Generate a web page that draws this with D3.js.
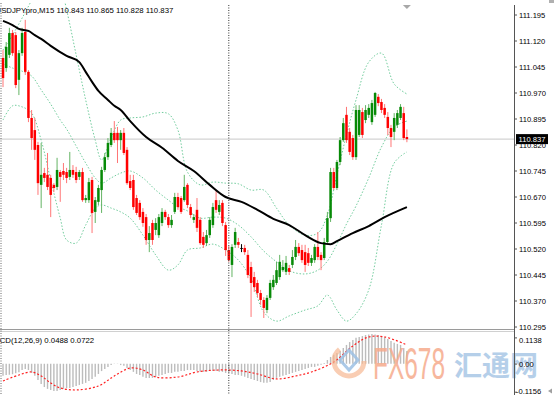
<!DOCTYPE html>
<html><head><meta charset="utf-8">
<script src="https://cdn.jsdelivr.net/npm/d3@7"></script>
<style>
body{margin:0;background:#fff;overflow:hidden}
svg{display:block}
text{font-family:"Liberation Sans",Arial,sans-serif}
</style>
</head><body>
<svg id="c" width="554" height="395"></svg>
<script>
// ---------- DATA ----------
const chartTitle = "USDJPYpro,M15";
const lastOHLC = [110.843, 110.865, 110.828, 110.837];
const macdTitle = "MACD(12,26,9)";
const macdLast = [0.0488, 0.0722];
const currentPrice = 110.837;
const separatorBar = 71;

const open = [111.071,111.042,111.080,111.143,111.137,111.008,111.085,111.146,111.031,110.898,
110.863,110.820,110.705,110.739,110.734,110.725,110.705,110.699,110.742,110.745,
110.742,110.728,110.748,110.742,110.728,110.742,110.661,110.661,110.719,110.627,
110.656,110.690,110.748,110.785,110.820,110.855,110.855,110.834,110.855,110.806,
110.716,110.719,110.667,110.653,110.627,110.612,110.546,110.595,110.575,110.560,
110.595,110.627,110.612,110.589,110.627,110.670,110.667,110.661,110.705,110.641,
110.604,110.633,110.604,110.555,110.537,110.560,110.589,110.661,110.627,110.653,
110.589,110.517,110.474,110.532,110.540,110.523,110.523,110.503,110.468,110.439,
110.422,110.393,110.373,110.344,110.379,110.410,110.422,110.439,110.459,110.454,
110.465,110.474,110.497,110.526,110.517,110.511,110.508,110.480,110.488,110.526,
110.503,110.494,110.540,110.609,110.742,110.696,110.771,110.834,110.907,110.858,
110.840,110.785,110.849,110.915,110.892,110.907,110.886,110.907,110.959,110.944,
110.927,110.901,110.869,110.858,110.878,110.898,110.912,110.843];
const high = [111.094,111.117,111.158,111.152,111.146,111.094,111.158,111.181,111.036,110.921,
110.898,110.829,110.826,110.754,110.797,110.734,110.710,110.783,110.748,110.768,
110.754,110.800,110.762,110.757,110.748,110.754,110.676,110.725,110.728,110.670,
110.705,110.757,110.797,110.840,110.869,110.889,110.872,110.863,110.869,110.814,
110.734,110.734,110.676,110.661,110.638,110.621,110.586,110.604,110.609,110.621,
110.638,110.633,110.621,110.618,110.682,110.682,110.673,110.734,110.710,110.650,
110.621,110.667,110.612,110.569,110.575,110.612,110.653,110.690,110.661,110.661,
110.598,110.529,110.534,110.581,110.552,110.534,110.532,110.517,110.483,110.454,
110.431,110.402,110.381,110.387,110.431,110.445,110.483,110.503,110.488,110.500,
110.474,110.517,110.546,110.537,110.532,110.532,110.523,110.503,110.534,110.569,
110.511,110.552,110.627,110.754,110.754,110.777,110.843,110.898,110.930,110.869,
110.849,110.935,110.935,110.927,110.935,110.938,110.950,110.973,110.967,110.953,
110.938,110.915,110.878,110.912,110.921,110.938,110.930,110.865];
const low = [110.987,111.031,111.071,111.077,110.984,110.964,111.077,111.022,110.886,110.806,
110.777,110.676,110.638,110.713,110.690,110.612,110.684,110.690,110.656,110.719,
110.710,110.719,110.725,110.710,110.719,110.656,110.653,110.653,110.566,110.595,
110.647,110.624,110.742,110.777,110.814,110.826,110.768,110.806,110.791,110.705,
110.690,110.633,110.618,110.604,110.584,110.532,110.511,110.532,110.560,110.552,
110.586,110.604,110.581,110.581,110.621,110.633,110.621,110.656,110.638,110.609,
110.595,110.569,110.532,110.523,110.529,110.552,110.581,110.624,110.618,110.586,
110.500,110.483,110.439,110.523,110.523,110.511,110.503,110.436,110.324,110.396,
110.381,110.359,110.321,110.335,110.373,110.402,110.416,110.431,110.454,110.445,
110.445,110.465,110.488,110.500,110.480,110.454,110.471,110.471,110.480,110.488,
110.459,110.488,110.534,110.598,110.690,110.690,110.762,110.829,110.826,110.791,
110.777,110.777,110.843,110.840,110.883,110.898,110.878,110.901,110.932,110.912,
110.898,110.849,110.814,110.834,110.869,110.892,110.834,110.828];
const close = [111.013,111.103,111.143,111.085,110.993,111.085,111.143,111.031,110.898,110.840,
110.806,110.710,110.734,110.725,110.699,110.676,110.696,110.748,110.728,110.734,
110.725,110.748,110.734,110.719,110.742,110.661,110.667,110.713,110.624,110.661,
110.696,110.748,110.785,110.826,110.855,110.834,110.834,110.855,110.797,110.710,
110.696,110.641,110.624,110.612,110.595,110.546,110.566,110.546,110.595,110.612,
110.627,110.612,110.589,110.604,110.670,110.641,110.627,110.699,110.647,110.618,
110.612,110.581,110.537,110.532,110.560,110.604,110.641,110.633,110.647,110.595,
110.517,110.488,110.526,110.569,110.532,110.523,110.511,110.445,110.422,110.410,
110.393,110.373,110.350,110.379,110.422,110.431,110.459,110.483,110.468,110.480,
110.454,110.497,110.526,110.508,110.488,110.474,110.480,110.494,110.526,110.497,
110.488,110.540,110.609,110.742,110.696,110.771,110.834,110.883,110.834,110.800,
110.785,110.921,110.921,110.849,110.921,110.927,110.941,110.970,110.941,110.921,
110.907,110.869,110.843,110.898,110.912,110.930,110.840,110.837];

// moving average (black), sampled at bar indices
const maIdx = [0,3,5,8,10,12,15,20,24,26,28,30,33,35,37,40,45,50,55,60,65,70,75,80,85,90,95,100,103,105,110,115,120,127];
const maVal = [111.178,111.166,111.155,111.149,111.137,111.126,111.106,111.077,111.059,111.031,111.002,110.976,110.950,110.933,110.921,110.889,110.843,110.812,110.774,110.745,110.705,110.670,110.656,110.633,110.607,110.589,110.560,110.537,110.534,110.543,110.566,110.586,110.612,110.641];

// Bollinger bands (dotted green), sampled at bar indices
const bbIdx = [0,3,6,9,12,15,18,20,23,26,29,31,34,37,40,44,48,52,55,58,62,66,70,74,78,82,86,90,95,99,102,105,108,111,115,119,123,127];
const bbUpper = [111.094,111.137,111.186,111.238,111.296,111.319,111.282,111.210,111.080,110.950,110.834,110.777,110.840,110.892,110.898,110.901,110.912,110.910,110.863,110.742,110.705,110.713,110.710,110.708,110.690,110.690,110.638,110.589,110.560,110.566,110.618,110.734,110.849,110.950,111.059,111.085,110.996,110.967];
const bbMid = [111.054,111.042,111.033,111.019,110.979,110.938,110.892,110.866,110.817,110.768,110.725,110.710,110.725,110.739,110.745,110.725,110.690,110.661,110.641,110.630,110.609,110.612,110.609,110.589,110.555,110.514,110.483,110.457,110.448,110.459,110.485,110.534,110.592,110.644,110.725,110.814,110.872,110.889];
const bbLower = [110.892,110.933,110.930,110.912,110.834,110.719,110.609,110.546,110.537,110.589,110.638,110.647,110.638,110.627,110.609,110.560,110.503,110.459,110.474,110.517,110.523,110.534,110.517,110.488,110.434,110.338,110.312,110.327,110.344,110.356,110.387,110.344,110.312,110.333,110.402,110.589,110.768,110.800];

// MACD histogram (one per bar)
const macdHist = [-0.046,-0.043,-0.042,-0.040,-0.036,-0.032,-0.024,-0.020,-0.024,-0.035,
-0.046,-0.062,-0.077,-0.089,-0.096,-0.100,-0.104,-0.104,-0.100,-0.096,
-0.093,-0.093,-0.089,-0.085,-0.081,-0.077,-0.073,-0.066,-0.058,-0.050,
-0.039,-0.028,-0.020,-0.012,-0.005,-0.001,-0.001,-0.005,-0.008,-0.016,
-0.024,-0.031,-0.039,-0.043,-0.050,-0.054,-0.054,-0.054,-0.050,-0.046,
-0.043,-0.039,-0.035,-0.035,-0.031,-0.031,-0.028,-0.028,-0.024,-0.024,
-0.024,-0.028,-0.031,-0.031,-0.031,-0.028,-0.028,-0.028,-0.031,-0.031,
-0.035,-0.035,-0.039,-0.043,-0.043,-0.046,-0.050,-0.054,-0.058,-0.062,
-0.066,-0.070,-0.073,-0.073,-0.070,-0.062,-0.054,-0.050,-0.046,-0.043,
-0.039,-0.035,-0.031,-0.028,-0.024,-0.020,-0.016,-0.012,-0.012,-0.008,
-0.004,0.003,0.0145,0.026,0.034,0.041,0.049,0.060,0.072,0.083,
0.091,0.099,0.1025,0.106,0.110,0.112,0.1138,0.112,0.110,0.106,
0.102,0.095,0.087,0.080,0.076,0.072,0.060,0.0488];
// MACD signal (red dotted), sampled at bar indices
const sigIdx = [0,5,9,12,15,18,23,30,35,40,44,48,55,61,68,75,80,86,92,97,104,110,115,120,127];
const sigVal = [-0.0658,-0.0428,-0.0314,-0.0467,-0.0734,-0.0925,-0.1002,-0.0849,-0.0467,-0.0161,-0.0237,-0.0505,-0.0505,-0.0314,-0.0237,-0.0275,-0.0390,-0.0581,-0.0467,-0.0314,0.0069,0.0681,0.1025,0.1025,0.0722];

const priceTicks = [111.195,111.120,111.045,110.970,110.895,110.820,110.745,110.670,110.595,110.520,110.445,110.370,110.295];
const macdTicks = [0.1138,0.00,-0.1156];
const macdTickLabels = ["0.1138","0.00","-0.1156"];

// ---------- DRAW ----------
const svg = d3.select("#c");
const axisX = 514;
const x = d3.scaleLinear().domain([0, 127]).range([3, 406.9]);
const y = d3.scaleLinear().domain([110.295, 111.195]).range([327, 15]);
const ym = d3.scaleLinear().domain([-0.1156, 0.1138]).range([394, 334]);

const defs = svg.append("defs");
defs.append("clipPath").attr("id","clipMain").append("rect").attr("x",0).attr("y",3).attr("width",axisX).attr("height",326);
defs.append("clipPath").attr("id","clipMacd").append("rect").attr("x",0).attr("y",333).attr("width",axisX).attr("height",62);
defs.append("clipPath").attr("id","clipAll").append("rect").attr("x",0).attr("y",0).attr("width",554).attr("height",395);

const gMain = svg.append("g").attr("clip-path","url(#clipMain)");

// current price line
gMain.append("line").attr("x1",0).attr("x2",axisX).attr("y1",y(currentPrice)).attr("y2",y(currentPrice))
  .attr("stroke","#c8c8c8").attr("stroke-width",1);

// Bollinger bands
const bbLine = arr => d3.line().x((d,i)=>x(bbIdx[i])).y(d=>y(d)).curve(d3.curveCatmullRom)(arr);
[bbUpper, bbMid, bbLower].forEach(arr=>{
  gMain.append("path").attr("d", bbLine(arr)).attr("fill","none")
    .attr("stroke","#4fbf84").attr("stroke-opacity",0.8).attr("stroke-width",1)
    .attr("stroke-dasharray","1.5,1.8");
});

// candles
const bars = d3.range(open.length);
const dir = i => close[i] > open[i] ? 1 : (close[i] < open[i] ? -1 : 0);
gMain.append("g").selectAll("line").data(bars).join("line")
  .attr("x1", i=>x(i)).attr("x2", i=>x(i))
  .attr("y1", i=>y(high[i])).attr("y2", i=>y(low[i]))
  .attr("stroke", i=> dir(i)>0 ? "#63b463" : dir(i)<0 ? "#ff7575" : "#000")
  .attr("stroke-width",1);
gMain.append("g").selectAll("rect").data(bars).join("rect")
  .attr("x", i=>x(i)-1.25).attr("width",2.5)
  .attr("y", i=>y(Math.max(open[i],close[i])))
  .attr("height", i=>Math.max(1, y(Math.min(open[i],close[i])) - y(Math.max(open[i],close[i]))))
  .attr("fill", i=> dir(i)>0 ? "#078a07" : dir(i)<0 ? "#ff0000" : "#000");

// moving average
gMain.append("path")
  .attr("d", d3.line().x((d,i)=>x(maIdx[i])).y(d=>y(d)).curve(d3.curveMonotoneX)(maVal))
  .attr("fill","none").attr("stroke","#000").attr("stroke-width",2);

// chart shift marker
svg.append("path").attr("d", d3.line()([[x(127)-4,5],[x(127)+4,5],[x(127),9]]) + "Z").attr("fill","#a8a8a8");

// title (left edge clipped like the terminal window)
const tg = svg.append("g").attr("clip-path","url(#clipAll)");
tg.append("text").attr("x",-4.5).attr("y",13).attr("font-size",7.8).attr("fill","#000")
  .text(chartTitle + "  " + lastOHLC.map(v=>v.toFixed(3)).join(" "));

// separator between panels
svg.append("line").attr("x1",0).attr("x2",axisX).attr("y1",329.5).attr("y2",329.5).attr("stroke","#9a9a9a");
svg.append("line").attr("x1",0).attr("x2",axisX).attr("y1",331.5).attr("y2",331.5).attr("stroke","#d0d0d0");

// MACD panel
const gM = svg.append("g").attr("clip-path","url(#clipMacd)");
gM.append("g").selectAll("line").data(bars).join("line")
  .attr("x1", i=>x(i)).attr("x2", i=>x(i))
  .attr("y1", ym(0)).attr("y2", i=>ym(macdHist[i]))
  .attr("stroke","#bcbcbc").attr("stroke-width",1.4);
gM.append("path")
  .attr("d", d3.line().x((d,i)=>x(sigIdx[i])).y(d=>ym(d)).curve(d3.curveCatmullRom)(sigVal))
  .attr("fill","none").attr("stroke","#ff2020").attr("stroke-width",1.2).attr("stroke-dasharray","2,2");
tg.append("text").attr("x",-12).attr("y",343).attr("font-size",7.8).attr("fill","#000")
  .text(macdTitle + " " + macdLast.map(v=>v.toFixed(4)).join(" "));

// watermark
const wm = svg.append("g").attr("opacity",0.85);
wm.append("circle").attr("cx",349).attr("cy",361).attr("r",15).attr("fill","none")
  .attr("stroke","#f6b690").attr("stroke-width",5).attr("stroke-dasharray","60,40").attr("opacity",0.8);
wm.append("path").attr("d","M349,350 L358,360 L349,370 L340,360 Z").attr("fill","none")
  .attr("stroke","#9ec1e4").attr("stroke-width",3);
wm.append("text").attr("x",373).attr("y",379).attr("font-size",44).attr("fill","#f6ab8c")
  .attr("textLength",72).attr("lengthAdjust","spacingAndGlyphs").text("FX678");
wm.append("text").attr("x",454).attr("y",376).attr("font-size",28).attr("font-weight","bold")
  .style("font-family","'Noto Sans CJK SC',sans-serif").attr("fill","#a9c7e6")
  .attr("textLength",84).attr("lengthAdjust","spacingAndGlyphs").text("汇通网");

// period separator (vertical dotted)
svg.append("line").attr("x1",x(separatorBar)).attr("x2",x(separatorBar)).attr("y1",5).attr("y2",395)
  .attr("stroke","#333").attr("stroke-width",1).attr("stroke-dasharray","1,1.5");
// left dotted border
svg.append("line").attr("x1",1).attr("x2",1).attr("y1",3).attr("y2",395)
  .attr("stroke","#666").attr("stroke-width",1).attr("stroke-dasharray","1,1.5");

// right axis
svg.append("line").attr("x1",axisX+0.5).attr("x2",axisX+0.5).attr("y1",5).attr("y2",395)
  .attr("stroke","#555").attr("stroke-width",1);
const pa = svg.append("g");
priceTicks.forEach(v=>{
  pa.append("line").attr("x1",axisX).attr("x2",axisX+3).attr("y1",y(v)).attr("y2",y(v)).attr("stroke","#555");
  pa.append("text").attr("x",519).attr("y",y(v)).attr("dy","0.35em").attr("font-size",7.6).attr("fill","#000").text(v.toFixed(3));
});
// current price box
svg.append("rect").attr("x",516).attr("y",y(currentPrice)-5).attr("width",32).attr("height",10).attr("fill","#000");
svg.append("text").attr("x",518.5).attr("y",y(currentPrice)).attr("dy","0.35em").attr("font-size",7.6).attr("fill","#fff").text(currentPrice.toFixed(3));

// MACD axis labels
const mOff = [6.5, 0.5, -3];
macdTicks.forEach((v,k)=>{
  svg.append("line").attr("x1",axisX).attr("x2",axisX+3).attr("y1",ym(v)+mOff[k]*0.6).attr("y2",ym(v)+mOff[k]*0.6).attr("stroke","#555");
  svg.append("text").attr("x", k===2 ? 516 : 519).attr("y",ym(v)+mOff[k]).attr("dy","0.35em")
    .attr("font-size",7.6).attr("fill","#000").text(macdTickLabels[k]);
});

// small UI marks at the right edge
svg.append("rect").attr("x",549).attr("y",0).attr("width",5).attr("height",3).attr("fill","#b0b0b0");
svg.append("path").attr("d","M548,391 L552,388.5 L552,393.5 Z").attr("fill","#a0a0a0");
</script>
</body></html>
